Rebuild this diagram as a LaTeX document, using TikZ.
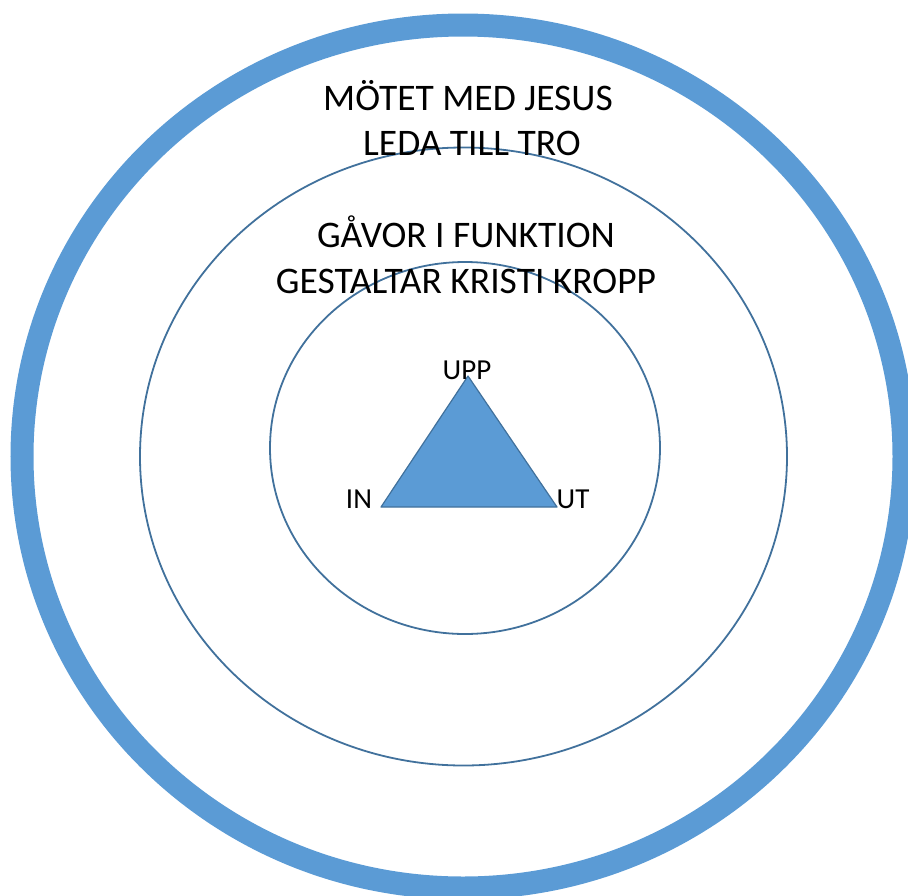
\documentclass[tikz,border=0pt]{standalone}
\usepackage{fontspec}
\setmainfont{Carlito}
\definecolor{ringblue}{HTML}{5B9BD5}
\definecolor{lineblue}{HTML}{41719C}
\begin{document}
\begin{tikzpicture}[x=1pt,y=-1pt,
    ring/.style ={draw=lineblue, line width=1.8pt},
    bigtext/.style ={font=\fontsize{37.5}{42}\selectfont, anchor=base, inner sep=0pt},
    corner/.style ={font=\fontsize{29}{33}\selectfont, anchor=base, inner sep=0pt}]
   \useasboundingbox (0,0) rectangle (908,895);
   \clip (0,0) rectangle (908,895);

   \draw[draw=ringblue, line width=23pt] (463,456.5) ellipse [x radius=441, y radius=431.5];
   \draw[ring] (463.5,456.5) ellipse [x radius=323.5, y radius=309];
   \draw[ring] (465,448) ellipse [x radius=195, y radius=186];

   \coordinate (top)   at (468,376);
   \coordinate (left)  at (381,507);
   \coordinate (right) at (557,507);
   \draw[fill=ringblue, draw=lineblue, line width=1.2pt, line join=round] (top) -- (left) -- (right) -- cycle;

   \node[bigtext] (meet)  at (468,110) {MÖTET MED JESUS};
   \node[bigtext] (faith) at (472,155) {LEDA TILL TRO};
   \node[bigtext] (gifts) at (466,247) {GÅVOR I FUNKTION};
   \node[bigtext] (body)  at (466,293) {GESTALTAR KRISTI KROPP};

   \node[corner] (upp) at (467,379) {UPP};
   \node[corner] (in)  at (359,508) {IN};
   \node[corner] (ut)  at (573,508) {UT};
 \end{tikzpicture}
\end{document}
